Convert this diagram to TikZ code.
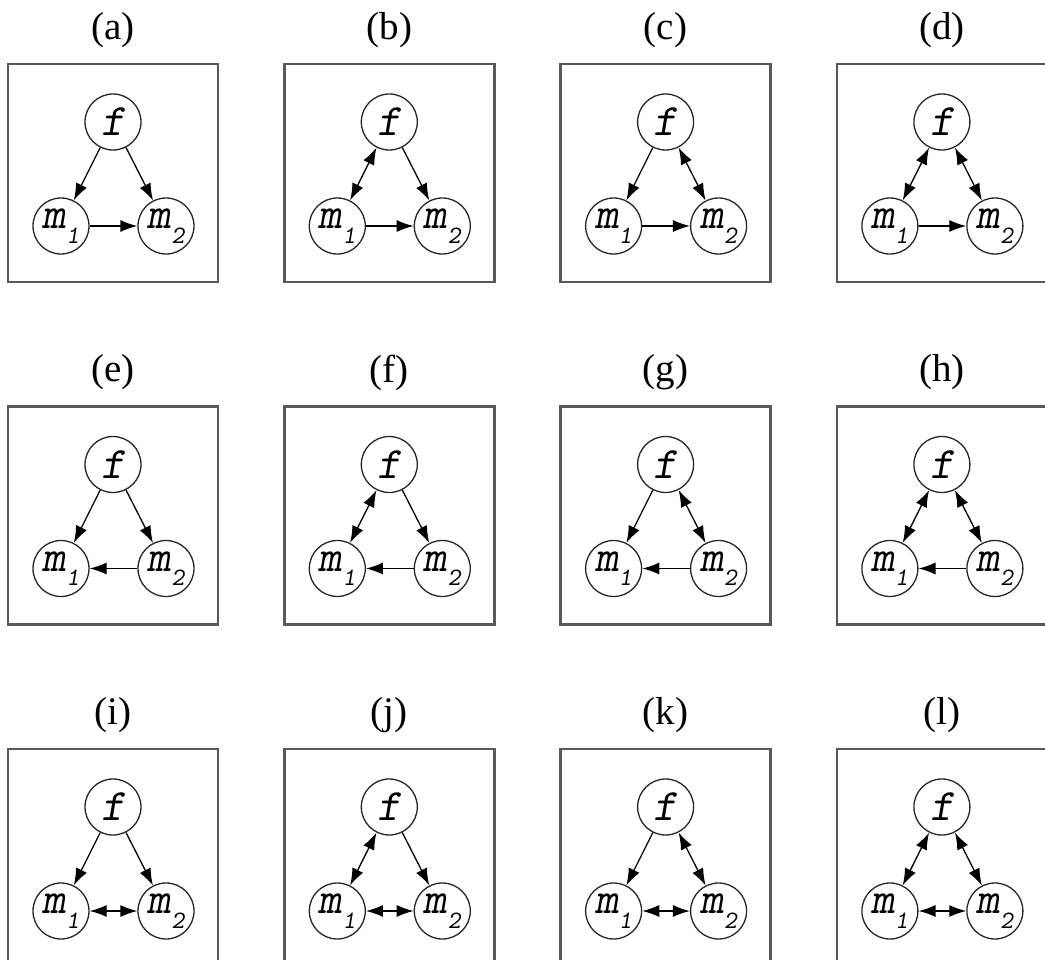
\documentclass[tikz,border=0pt]{standalone}
\usepackage{fontspec}
\setmainfont{Liberation Serif}
\usetikzlibrary{arrows.meta}
\newcommand\plett[1]{\ifcase#1 a\or b\or c\or d\or e\or f\or g\or h\or i\or j\or k\or l\fi}
\newcommand\msub[1]{{\ttfamily\slshape m\raisebox{-0.32em}{\fontsize{25}{25}\selectfont #1}}}
\tikzset{
  panel/.style={draw=black!65, line width=2.6pt},
  vertex/.style={circle, draw=black!85, line width=1.3pt, inner sep=0pt, minimum size=56pt,
    font=\fontsize{45}{45}\selectfont},
  conn/.style={line width=1.3pt, >={Latex[length=17pt,width=12pt]}},
  plabel/.style={font=\fontsize{39}{39}\selectfont, inner sep=0pt}
}
\begin{document}
\begin{tikzpicture}[x=1pt,y=-1pt]
\useasboundingbox (0,0) rectangle (1045,960);
\clip (0,0) rectangle (1045,960);
\foreach \r/\mm in {0/->,1/<-,2/<->}{
  \foreach \c/\fa/\fb in {0/->/->,1/<->/->,2/->/<->,3/<->/<->}{
    \pgfmathsetmacro{\bx}{8+276.3*\c}
    \pgfmathsetmacro{\by}{64+342.5*\r}
    \pgfmathtruncatemacro{\idx}{4*\r+\c}
    \draw[panel] (\bx,\by) rectangle ++(210,218);
    \node[plabel] (lab-\r-\c) at (\bx+105,\by-34) {(\plett{\idx})};
    \node[vertex] (f-\r-\c) at (\bx+105,\by+58) {{\ttfamily\slshape f}};
    \node[vertex] (ma-\r-\c) at (\bx+53,\by+162) {\msub{1}};
    \node[vertex] (mb-\r-\c) at (\bx+158,\by+162) {\msub{2}};
    \draw[conn,\fa] (f-\r-\c) -- (ma-\r-\c);
    \draw[conn,\fb] (f-\r-\c) -- (mb-\r-\c);
    \draw[conn,\mm] (ma-\r-\c) -- (mb-\r-\c);
  }
}
\end{tikzpicture}
\end{document}
